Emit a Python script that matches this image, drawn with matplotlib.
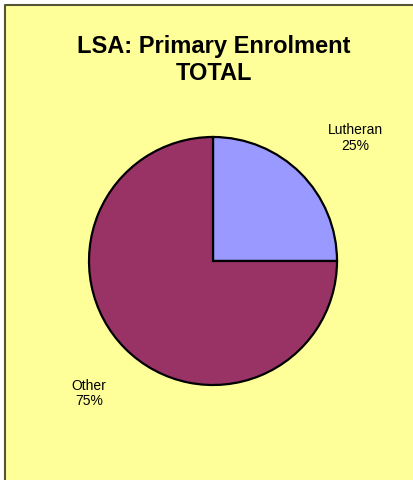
import matplotlib
matplotlib.use("Agg")
import matplotlib.pyplot as plt
from matplotlib.patches import Rectangle
from matplotlib.lines import Line2D

categories = ["Lutheran", "Other"]
values = [25, 75]
colors = ["#9999FF", "#993366"]
title = "LSA: Primary Enrolment\nTOTAL"

plt.rcParams['font.family'] = ['Liberation Sans', 'DejaVu Sans']

W, H = 414, 481
fig = plt.figure(figsize=(W / 100, H / 100), dpi=100)
fig.patch.set_facecolor("white")

# yellow chart area and border (top and left)
fig.add_artist(Rectangle((6 / W, 0), 1 - 6 / W, 1 - 6 / H, transform=fig.transFigure,
                         facecolor="#FFFF99", edgecolor="none", zorder=0))
fig.add_artist(Line2D([5.5 / W, 5.5 / W, 1], [0, 1 - 5.5 / H, 1 - 5.5 / H],
                      transform=fig.transFigure, color="#555533", lw=1.5, zorder=1))

cx, cy, r = 213, 262, 124
ax = fig.add_axes([(cx - r) / W, (H - cy - r) / H, 2 * r / W, 2 * r / H])
ax.pie(values, colors=colors, startangle=90, counterclock=False,
       wedgeprops=dict(edgecolor="black", linewidth=1.6))
ax.set_xlim(-1, 1)
ax.set_ylim(-1, 1)
ax.set_aspect("equal")
ax.axis("off")

total = sum(values)
label_pos = [(1.145, 1.0), (-1.0, -1.06)]
for cat, v, (x, y) in zip(categories, values, label_pos):
    ax.text(x, y, f"{cat}\n{round(v / total * 100)}%", ha="center", va="center",
            fontsize=10, color="black", linespacing=1.15, clip_on=False)

fig.text(214 / W, 1 - 60 / H, title, ha="center", va="center", fontsize=17,
         fontweight="bold", linespacing=1.25)

fig.savefig("out.png", dpi=100)
